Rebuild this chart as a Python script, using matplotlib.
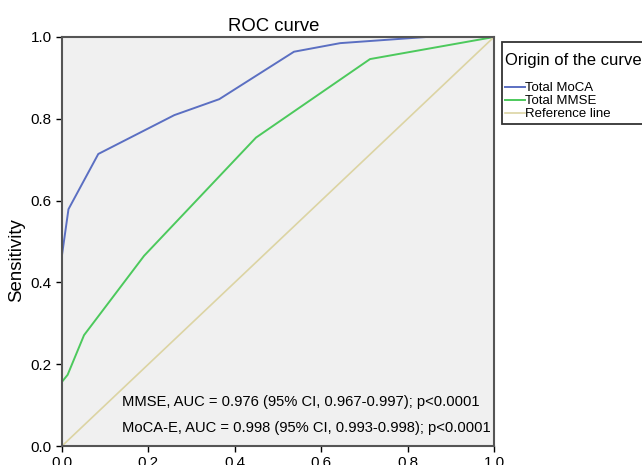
import matplotlib
matplotlib.use("Agg")
from matplotlib import pyplot as plt
from matplotlib.offsetbox import DrawingArea, VPacker

plt.rcParams['font.family'] = ['Liberation Sans', 'DejaVu Sans']

moca_x = [0.0, 0.0, 0.015, 0.084, 0.26, 0.364, 0.537, 0.644, 0.843, 1.0]
moca_y = [0.0, 0.467, 0.579, 0.714, 0.809, 0.848, 0.964, 0.985, 1.0, 1.0]

mmse_x = [0.0, 0.0, 0.013, 0.051, 0.19, 0.449, 0.713, 1.0]
mmse_y = [0.0, 0.157, 0.174, 0.271, 0.465, 0.754, 0.946, 1.0]

ref_x = [0.0, 1.0]
ref_y = [0.0, 1.0]

ticks = [0.0, 0.2, 0.4, 0.6, 0.8, 1.0]
notes = ["MMSE, AUC = 0.976 (95% CI, 0.967-0.997); p<0.0001",
         "MoCA-E, AUC = 0.998 (95% CI, 0.993-0.998); p<0.0001"]

fig = plt.figure(figsize=(6.42, 4.65), dpi=100)
ax = fig.add_axes([62/642, 1-446/465, 432/642, 409/465])
ax.set_facecolor('#f0f0f0')

ax.plot(moca_x, moca_y, color='#5b6fc2', lw=1.4, label='Total MoCA')
ax.plot(mmse_x, mmse_y, color='#4cc95c', lw=1.4, label='Total MMSE')
ax.plot(ref_x, ref_y, color='#dcd4a3', lw=1.2, label='Reference line')

ax.set_xlim(0, 1)
ax.set_ylim(0, 1)
ax.set_xticks(ticks)
ax.set_yticks(ticks)
ax.set_xticklabels([f"{t:.1f}" for t in ticks])
ax.set_yticklabels([f"{t:.1f}" for t in ticks])
ax.tick_params(labelsize=11, length=4, width=1, colors='black', direction='out')
for s in ax.spines.values():
    s.set_color('#555555')
    s.set_linewidth(1.5)

ax.set_ylabel("Sensitivity", fontsize=13.4)
ax.yaxis.set_label_coords(-0.086, 0.455)
ax.set_title("ROC curve", fontsize=13.3, pad=4, x=0.49)

ax.text(0.14, 0.107, notes[0], fontsize=10.6, va='center')
ax.text(0.14, 0.045, notes[1], fontsize=10.6, va='center')

leg = fig.legend(loc='upper left', bbox_to_anchor=(502/642, 1-42/465),
                 borderaxespad=0, title="Origin of the curve", fontsize=9.5,
                 title_fontsize=12, frameon=True, fancybox=False,
                 handlelength=1.5, handletextpad=0.0, labelspacing=0.05,
                 borderpad=0.25, alignment='left')
leg.get_frame().set_edgecolor('black')
leg.get_frame().set_linewidth(1.3)
# extra room above the legend title and between title and entries
title_box = leg._legend_box._children[0]
leg._legend_box._children[0] = VPacker(pad=0, sep=0, align='left',
                                       children=[DrawingArea(1, 5.3), title_box])
leg._legend_box.sep = 10.5

fig.savefig("out.png", dpi=100)
